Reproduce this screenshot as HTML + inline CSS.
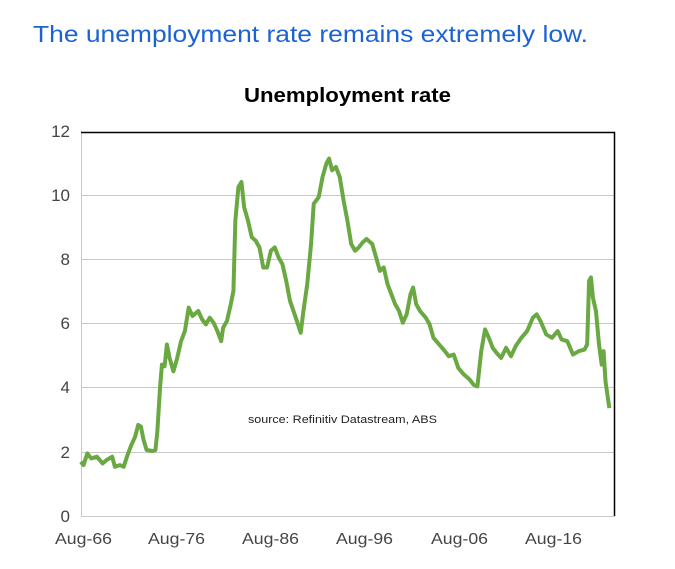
<!DOCTYPE html>
<html><head><meta charset="utf-8"><style>
body{margin:0;background:#fff;width:675px;height:569px;overflow:hidden;position:relative;font-family:"Liberation Sans",Arial,sans-serif}
</style></head><body>
<svg width="675" height="569" style="position:absolute;left:0;top:0">
<text x="33" y="42" font-size="23" fill="#1b62d4" textLength="555" lengthAdjust="spacingAndGlyphs">The unemployment rate remains extremely low.</text>
<text x="244" y="102" font-size="20" font-weight="bold" fill="#000" textLength="207" lengthAdjust="spacingAndGlyphs">Unemployment rate</text>
<g stroke="#c8c8c8" stroke-width="1">
<line x1="81" x2="615" y1="195.5" y2="195.5"/>
<line x1="81" x2="615" y1="259.5" y2="259.5"/>
<line x1="81" x2="615" y1="323.5" y2="323.5"/>
<line x1="81" x2="615" y1="387.5" y2="387.5"/>
<line x1="81" x2="615" y1="452.5" y2="452.5"/>
<line x1="81" x2="615" y1="516.5" y2="516.5"/>
<line x1="81.5" x2="81.5" y1="131" y2="516"/>
</g>
<polyline points="81,132.5 614.5,132.5 614.5,516" fill="none" stroke="#000" stroke-width="1.5"/>
<g font-size="17" fill="#444" text-anchor="end">
<text x="70" y="137">12</text><text x="70" y="201">10</text><text x="70" y="265">8</text>
<text x="70" y="329">6</text><text x="70" y="393">4</text><text x="70" y="458">2</text><text x="70" y="522">0</text>
</g>
<g font-size="16" fill="#444">
<text x="55" y="544" textLength="57" lengthAdjust="spacingAndGlyphs">Aug-66</text>
<text x="148" y="544" textLength="57" lengthAdjust="spacingAndGlyphs">Aug-76</text>
<text x="242" y="544" textLength="57" lengthAdjust="spacingAndGlyphs">Aug-86</text>
<text x="336" y="544" textLength="57" lengthAdjust="spacingAndGlyphs">Aug-96</text>
<text x="431" y="544" textLength="57" lengthAdjust="spacingAndGlyphs">Aug-06</text>
<text x="525" y="544" textLength="57" lengthAdjust="spacingAndGlyphs">Aug-16</text>
</g>
<text x="248" y="423" font-size="11" fill="#222" textLength="189" lengthAdjust="spacingAndGlyphs">source:  Refinitiv Datastream, ABS</text>
<g transform="translate(30,110) scale(0.3824,0.335)">
<polyline vector-effect="non-scaling-stroke" fill="none" stroke="#6aa842" stroke-width="4" stroke-linejoin="round" points="133,1050 140,1060 150,1025 160,1040 175,1035 190,1055 200,1045 215,1035 222,1065 235,1060 245,1065 255,1030 265,1000 275,975 283,940 290,945 297,985 305,1015 320,1018 328,1015 333,960 340,830 345,760 352,765 358,700 365,740 375,780 385,740 395,690 405,660 415,590 425,615 440,600 450,625 460,640 470,620 480,635 490,660 500,690 505,650 515,630 525,580 532,540 537,330 545,230 553,215 560,290 570,330 580,380 590,390 600,410 610,470 620,470 630,420 640,410 650,440 660,460 670,510 680,570 695,620 708,665 715,600 725,520 735,400 742,280 755,260 765,200 775,160 782,145 790,180 800,170 810,200 820,270 830,330 840,400 850,420 860,410 870,395 880,385 895,400 905,440 915,480 925,470 935,520 945,550 955,580 965,600 975,635 985,610 995,550 1002,530 1010,580 1020,600 1035,620 1045,640 1055,680 1070,700 1085,720 1095,735 1108,730 1120,770 1135,790 1150,805 1160,820 1170,825 1180,720 1190,655 1200,680 1210,710 1220,725 1232,740 1245,710 1258,735 1270,705 1285,680 1300,660 1315,620 1325,610 1335,630 1350,670 1365,680 1380,660 1390,685 1405,690 1420,730 1435,720 1450,715 1457,700 1462,510 1467,500 1472,560 1480,600 1488,700 1495,760 1500,720 1505,810 1510,850 1515,890"/>
</g>
</svg>
</body></html>
